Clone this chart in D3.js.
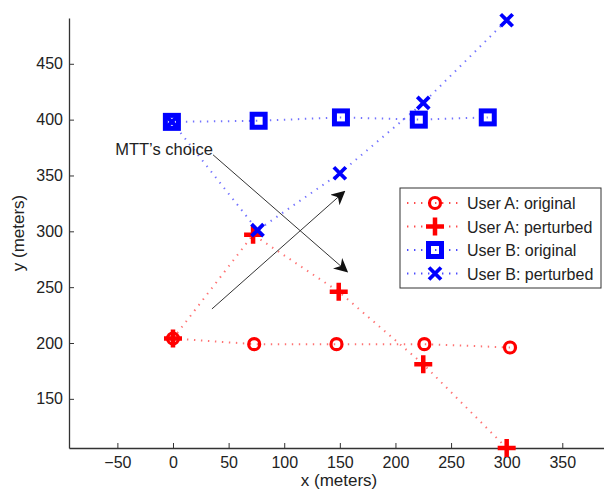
<!DOCTYPE html>
<html>
<head>
<meta charset="utf-8">
<script src="https://cdn.jsdelivr.net/npm/d3@7"></script>
<style>
  body { margin: 0; background: #fff; }
  text { font-family: "Liberation Sans", Arial, sans-serif; }
</style>
</head>
<body>
<div class="chart"></div>
<script>
// user trajectories (meters)
var aOrigX = [0, 73, 147, 226, 303];
var aOrigY = [204, 199, 199, 199, 196];
var aPertX = [0, 72, 149, 225, 300];
var aPertY = [204, 297, 246, 181, 106];
var bOrigX = [-1, 77, 151, 221, 283];
var bOrigY = [398, 399, 402, 400, 402];
var bPertX = [-1, 76, 150, 225, 300];
var bPertY = [398, 301, 352, 415, 489];

var xTicks = [-50, 0, 50, 100, 150, 200, 250, 300, 350];
var yTicks = [150, 200, 250, 300, 350, 400, 450];

var legendNames = ["User A: original", "User A: perturbed", "User B: original", "User B: perturbed"];

var svg = d3.select(".chart").append("svg")
    .attr("width", 604)
    .attr("height", 490);

var x = d3.scaleLinear().domain([-93.5, 387.5]).range([69, 604]);
var y = d3.scaleLinear().domain([106, 491]).range([448, 18]);

// axes, MATLAB style ticks inward
var xAxis = svg.append("g")
    .attr("transform", "translate(0,448)")
    .call(d3.axisBottom(x).tickValues(xTicks).tickSize(-5).tickPadding(9).tickSizeOuter(0));
var yAxis = svg.append("g")
    .attr("transform", "translate(69,0)")
    .call(d3.axisLeft(y).tickValues(yTicks).tickSize(-5).tickPadding(6).tickSizeOuter(0));

[xAxis, yAxis].forEach(function(a) {
    a.select(".domain").attr("stroke", "#333").attr("stroke-width", 1.3);
    a.selectAll(".tick line").attr("stroke", "#333");
    a.selectAll(".tick text").attr("fill", "#222").style("font-size", "16px")
        .style("font-family", "'Liberation Sans', Arial, sans-serif");
});

svg.append("text")
    .attr("x", 339).attr("y", 486)
    .attr("text-anchor", "middle")
    .style("font-size", "17px").attr("fill", "#222")
    .text("x (meters)");
svg.append("text")
    .attr("transform", "translate(24,233) rotate(-90)")
    .attr("text-anchor", "middle")
    .style("font-size", "17px").attr("fill", "#222")
    .text("y (meters)");

// dotted trajectory lines
function path(xs, ys, color) {
    var pts = xs.map(function(d, i) { return [x(d), y(ys[i])]; });
    svg.append("path")
        .attr("d", d3.line()(pts))
        .attr("fill", "none")
        .attr("stroke", color)
        .attr("stroke-width", 2)
        .attr("stroke-dasharray", "1.4,5.6")
        .attr("opacity", 0.55);
}
path(aOrigX, aOrigY, "#ff0000");
path(aPertX, aPertY, "#ff0000");
path(bOrigX, bOrigY, "#0000ff");
path(bPertX, bPertY, "#0000ff");

// annotation arrows
svg.append("defs").append("marker")
    .attr("id", "arr")
    .attr("viewBox", "0 0 10 10")
    .attr("refX", 9).attr("refY", 5)
    .attr("markerWidth", 14).attr("markerHeight", 14)
    .attr("markerUnits", "userSpaceOnUse")
    .attr("orient", "auto")
    .append("path")
    .attr("d", "M0,0 L10,5 L0,10 L3,5 Z")
    .attr("fill", "#111");

svg.append("line")
    .attr("x1", x(36)).attr("y1", y(368.5))
    .attr("x2", x(156.5)).attr("y2", y(264))
    .attr("stroke", "#333").attr("stroke-width", 1)
    .attr("marker-end", "url(#arr)");
svg.append("line")
    .attr("x1", x(35)).attr("y1", y(230.5))
    .attr("x2", x(154)).attr("y2", y(335.5))
    .attr("stroke", "#333").attr("stroke-width", 1)
    .attr("marker-end", "url(#arr)");
svg.append("text")
    .attr("x", x(-52)).attr("y", y(368))
    .style("font-size", "16.5px").attr("fill", "#222")
    .text("MTT\u2019s choice");

// markers
function marker(g, kind, cx, cy) {
    if (kind == "o") {
        g.append("circle").attr("cx", cx).attr("cy", cy).attr("r", 5.5)
            .attr("fill", "none").attr("stroke", "#ff0000").attr("stroke-width", 3.2);
    } else if (kind == "+") {
        g.append("path").attr("d", "M" + (cx - 9) + "," + cy + "H" + (cx + 9) + "M" + cx + "," + (cy - 9) + "V" + (cy + 9))
            .attr("stroke", "#ff0000").attr("stroke-width", 4.5);
    } else if (kind == "s") {
        g.append("rect").attr("x", cx - 6.5).attr("y", cy - 6.5).attr("width", 13).attr("height", 13)
            .attr("fill", "none").attr("stroke", "#0000ff").attr("stroke-width", 5);
    } else {
        g.append("path").attr("d", "M" + (cx - 6) + "," + (cy - 6) + "L" + (cx + 6) + "," + (cy + 6) + "M" + (cx - 6) + "," + (cy + 6) + "L" + (cx + 6) + "," + (cy - 6))
            .attr("stroke", "#0000ff").attr("stroke-width", 3.8);
    }
}
var mk = svg.append("g");
aOrigX.forEach(function(d, i) { marker(mk, "o", x(d), y(aOrigY[i])); });
aPertX.forEach(function(d, i) { marker(mk, "+", x(d), y(aPertY[i])); });
bOrigX.forEach(function(d, i) { marker(mk, "s", x(d), y(bOrigY[i])); });
bPertX.forEach(function(d, i) { marker(mk, "x", x(d), y(bPertY[i])); });

// legend
var lg = svg.append("g");
lg.append("rect")
    .attr("x", 400).attr("y", 188).attr("width", 201).attr("height", 100)
    .attr("fill", "#fff").attr("stroke", "#333").attr("stroke-width", 1);
var kinds = ["o", "+", "s", "x"];
var colors = ["#ff0000", "#ff0000", "#0000ff", "#0000ff"];
for (var i = 0; i < 4; i++) {
    var ly = 203 + i * 23.5;
    lg.append("line")
        .attr("x1", 407).attr("y1", ly).attr("x2", 460).attr("y2", ly)
        .attr("stroke", colors[i]).attr("stroke-width", 2)
        .attr("stroke-dasharray", "1.4,5.6").attr("opacity", 0.7);
    marker(lg, kinds[i], 435, ly);
    lg.append("text")
        .attr("x", 467).attr("y", ly + 6)
        .style("font-size", "16px").attr("fill", "#222")
        .text(legendNames[i]);
}
</script>
</body>
</html>
